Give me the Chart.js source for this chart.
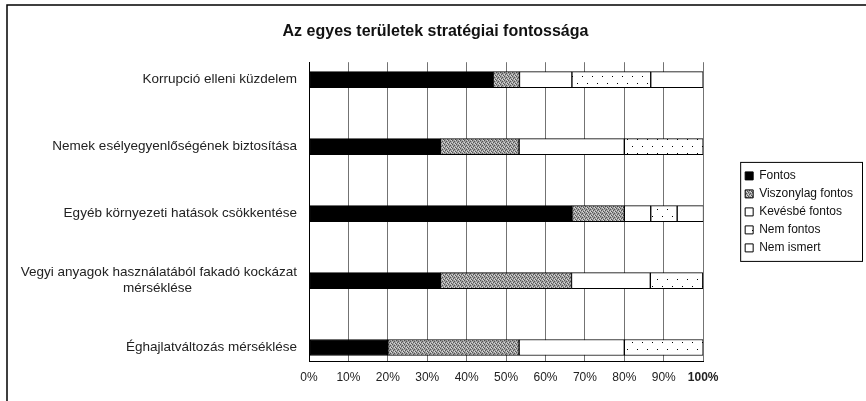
<!DOCTYPE html>
<html>
<head>
<meta charset="utf-8">
<script src="https://cdn.jsdelivr.net/npm/chart.js@4/dist/chart.umd.min.js"></script>
<style>
  body { margin: 0; background: #fff; }
  #wrap { width: 866px; height: 401px; position: relative; }
</style>
</head>
<body>
<div id="wrap"><canvas id="chart"></canvas></div>
<script>
// categories, top to bottom
const categories = [
    'Korrupció elleni küzdelem',
    'Nemek esélyegyenlőségének biztosítása',
    'Egyéb környezeti hatások csökkentése',
    ['Vegyi anyagok használatából fakadó kockázat', 'mérséklése'],
    'Éghajlatváltozás mérséklése'
];
const seriesNames = ['Fontos', 'Viszonylag fontos', 'Kevésbé fontos', 'Nem fontos', 'Nem ismert'];
// shares in percent
const fontos     = [46.7, 33.3, 66.7, 33.3, 20];
const viszonylag = [6.7, 20, 13.3, 33.3, 33.3];
const kevesbe    = [13.3, 26.7, 6.7, 20, 26.7];
const nemFontos  = [20, 20, 6.7, 13.3, 20];
const nemIsmert  = [13.3, 0, 6.7, 0, 0];
const tickLabels = ['0%', '10%', '20%', '30%', '40%', '50%', '60%', '70%', '80%', '90%', '100%'];

const FONT = "'Liberation Sans', Arial, sans-serif";
Chart.defaults.font.family = FONT;
Chart.defaults.color = '#111';

function makePattern(w, h, draw) {
    const c = document.createElement('canvas');
    c.width = w; c.height = h;
    const g = c.getContext('2d');
    draw(g);
    return g.createPattern(c, 'repeat');
}

const grayTexture = makePattern(4, 4, g => {
    g.fillStyle = '#a0a0a0'; g.fillRect(0, 0, 4, 4);
    g.fillStyle = '#555';
    [[0, 0], [2, 1], [1, 2], [3, 3]].forEach(p => g.fillRect(p[0], p[1], 1, 1));
    g.fillStyle = '#d8d8d8';
    [[2, 3], [0, 2], [3, 0]].forEach(p => g.fillRect(p[0], p[1], 1, 1));
});
const dots = makePattern(10, 14, g => {
    g.fillStyle = '#fff'; g.fillRect(0, 0, 10, 14);
    g.fillStyle = '#000';
    g.fillRect(2, 6, 1, 1);
    g.fillRect(7, 13, 1, 1);
});

// pad short lines of a multi-line label so they sit centred under the long one
function centerLines(lines, font) {
    if (!Array.isArray(lines)) return lines;
    const g = document.createElement('canvas').getContext('2d');
    g.font = font;
    const widths = lines.map(l => g.measureText(l).width);
    const maxW = Math.max(...widths);
    const sp = g.measureText(' ').width;
    return lines.map((l, i) => l + ' '.repeat(Math.round((maxW - widths[i]) / 2 / sp)));
}
const yLabels = categories.map(c => centerLines(c, '13.5px ' + FONT));

const toPoints = arr => arr.map((v, i) => ({ x: v, y: i }));
const fills = ['#000', grayTexture, '#fff', dots, '#fff'];
const datasets = [fontos, viszonylag, kevesbe, nemFontos, nemIsmert].map((arr, k) => ({
    label: seriesNames[k],
    data: toPoints(arr),
    backgroundColor: fills[k],
    borderColor: '#000',
    borderWidth: 1,
    borderSkipped: false,
    barThickness: 16
}));

const framePlugin = {
    id: 'frame',
    afterDraw(chart) {
        const ctx = chart.ctx;
        ctx.save();
        ctx.strokeStyle = '#000';
        ctx.lineWidth = 1.5;
        ctx.beginPath();
        ctx.moveTo(7, 401); ctx.lineTo(7, 5); ctx.lineTo(866, 5);
        ctx.stroke();
        const hb = chart.legend.legendHitBoxes;
        if (hb && hb.length) {
            const first = hb[0], last = hb[hb.length - 1];
            const x0 = first.left - 5, y0 = first.top - 8;
            const y1 = last.top + last.height + 7;
            ctx.lineWidth = 1;
            ctx.strokeRect(x0 + 0.5, y0 + 0.5, 862 - x0, y1 - y0);
        }
        ctx.restore();
    }
};

new Chart(document.getElementById('chart'), {
    type: 'bar',
    data: { datasets },
    options: {
        indexAxis: 'y',
        responsive: true,
        maintainAspectRatio: false,
        animation: false,
        layout: { padding: { left: 8, right: 3, top: 0, bottom: 7 } },
        scales: {
            x: {
                stacked: true,
                min: 0,
                max: 100,
                grid: { color: 'rgba(0,0,0,0.55)', lineWidth: 1, drawTicks: false },
                border: { color: '#000', width: 1 },
                ticks: {
                    stepSize: 10,
                    padding: 9,
                    color: '#222',
                    font: c => ({ size: 12, weight: c.tick && c.tick.value === 100 ? 'bold' : 'normal' }),
                    callback: v => tickLabels[Math.round(v / 10)]
                }
            },
            y: {
                type: 'linear',
                stacked: true,
                reverse: true,
                offset: false,
                min: -0.26,
                max: 4.21,
                grid: { display: false, drawTicks: false },
                border: { color: '#000', width: 1 },
                afterBuildTicks: s => { s.ticks = categories.map((c, i) => ({ value: i })); },
                afterFit: s => { s.width = 301; },
                ticks: {
                    padding: 12,
                    color: '#222',
                    font: { size: 13.5 },
                    callback: v => yLabels[v]
                }
            },
            gap: {
                type: 'linear',
                axis: 'y',
                position: 'right',
                display: true,
                grid: { display: false, drawTicks: false },
                border: { display: false },
                ticks: { display: false },
                afterFit: s => { s.width = 36; }
            }
        },
        plugins: {
            title: {
                display: true,
                text: 'Az egyes területek stratégiai fontossága',
                color: '#111',
                font: { size: 16, weight: 'bold' },
                padding: { top: 22, bottom: 21 }
            },
            legend: {
                position: 'right',
                fullSize: false,
                labels: {
                    boxWidth: 8,
                    boxHeight: 8,
                    padding: 6,
                    color: '#111',
                    font: { size: 12 }
                }
            },
            tooltip: { enabled: false }
        }
    },
    plugins: [framePlugin]
});
</script>
</body>
</html>
